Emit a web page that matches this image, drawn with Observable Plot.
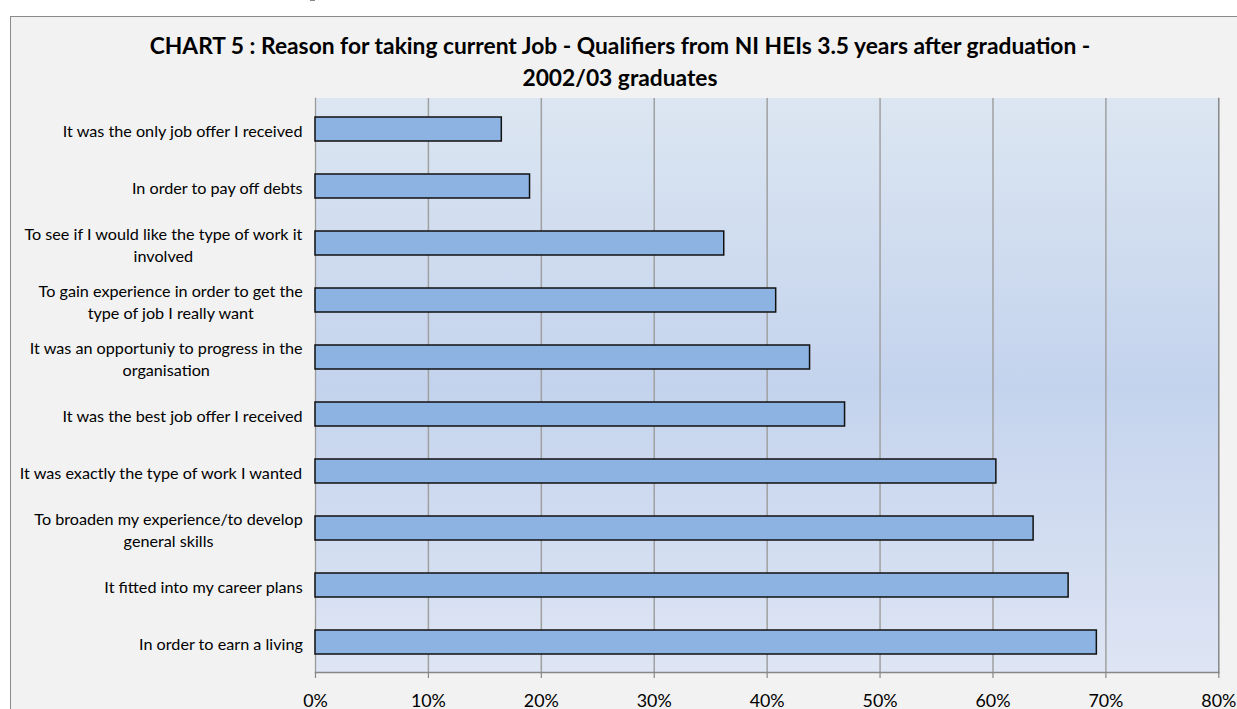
<!DOCTYPE html>
<html>
<head>
<meta charset="utf-8">
<script src="https://cdn.jsdelivr.net/npm/d3@7"></script>
<script src="https://cdn.jsdelivr.net/npm/@observablehq/plot@0.6"></script>
<style>
  html, body { margin: 0; padding: 0; overflow: hidden; background: #ffffff; }
  #page { position: relative; width: 1237px; height: 709px; overflow: hidden; background: #ffffff; }
  #frame { position: absolute; left: 10px; top: 16px; width: 1260px; height: 720px; border: 1px solid #8a8a8a; background: #f2f2f2; box-sizing: border-box; }
  #title { position: absolute; left: 0; width: 1240px; text-align: center; font-weight: bold; color: #000; white-space: pre; }
  #chart { position: absolute; left: 0; top: 0; }
</style>
</head>
<body>
<div id="page">
  <div id="frame"></div>
  <div id="title"></div>
  <div id="chart"></div>
</div>
<script>
// ---- data ----
const titleLines = [
  "CHART 5 : Reason for taking current Job - Qualifiers from NI HEIs 3.5 years after graduation -",
  "2002/03 graduates"
];
const labelLines = [
  ["It was the only job offer I received"],
  ["In order to pay off debts"],
  ["To see if I would like the type of work it", "involved"],
  ["To gain experience in order to get the", "type of job I really want"],
  ["It was an opportuniy to progress in the", "organisation"],
  ["It was the best job offer I received"],
  ["It was exactly the type of work I wanted"],
  ["To broaden my experience/to develop", "general skills"],
  ["It fitted into my career plans"],
  ["In order to earn a living"]
];
const categories = labelLines.map(l => l.join(" "));
const percentages = [16.5, 19.0, 36.2, 40.8, 43.8, 46.9, 60.3, 63.6, 66.7, 69.2];
const xTicks = [0, 10, 20, 30, 40, 50, 60, 70, 80];

const FAMILY = "Lato, 'Open Sans', 'DejaVu Sans', sans-serif";

async function draw() {
  try { await document.fonts.load("bold 20px Lato"); await document.fonts.load("20px Lato"); } catch (e) {}
  const ctx = document.createElement("canvas").getContext("2d");
  const measure = (text, size, weight) => { ctx.font = `${weight || "normal"} ${size}px ${FAMILY}`; return ctx.measureText(text).width; };
  const fit = (text, target, weight) => 100 * target / measure(text, 100, weight);

  // font sizes fitted to the reference text widths
  const titleSize = fit(titleLines[0], 944, "bold");
  const labelSize = fit(labelLines[0][0], 241);
  const tickSize = fit("70%", 35);

  // title
  const title = document.getElementById("title");
  const lh = 32.4;
  title.style.fontFamily = FAMILY;
  title.style.fontSize = titleSize + "px";
  title.style.lineHeight = lh + "px";
  title.style.top = (55 - ((lh - 1.2 * titleSize) / 2 + 0.987 * titleSize)) + "px";
  title.textContent = titleLines.join("\n");

  const rows = categories.map((c, i) => ({cat: c, value: percentages[i], label: labelLines[i].join("\n"),
    w: d3.max(labelLines[i], s => measure(s, labelSize))}));

  function background(index, scales, values, dims) {
    const g = d3.create("svg:g");
    const grad = g.append("defs").append("linearGradient").attr("id", "plotbg")
      .attr("x1", 0).attr("y1", 0).attr("x2", 0).attr("y2", 1);
    grad.append("stop").attr("offset", "0%").attr("stop-color", "#dce6f2");
    grad.append("stop").attr("offset", "50%").attr("stop-color", "#c4d3ed");
    grad.append("stop").attr("offset", "100%").attr("stop-color", "#dee5f4");
    g.append("rect")
      .attr("x", dims.marginLeft).attr("y", dims.marginTop)
      .attr("width", dims.width - dims.marginLeft - dims.marginRight)
      .attr("height", dims.height - dims.marginTop - dims.marginBottom)
      .attr("fill", "url(#plotbg)");
    return g.node();
  }

  function bandTicks(index, scales, values, dims) {
    const y = scales.y;
    const bw = y.bandwidth;
    const step = y(categories[1]) - y(categories[0]);
    const gap = (step - bw) / 2;
    const pos = categories.map(c => y(c) - gap);
    pos.push(y(categories[categories.length - 1]) + bw + gap);
    const g = d3.create("svg:g").attr("stroke", "#878787").attr("stroke-width", 1.2);
    for (const p of pos) {
      g.append("line").attr("x1", dims.marginLeft - 5).attr("x2", dims.marginLeft)
        .attr("y1", p).attr("y2", p);
    }
    return g.node();
  }

  const labelMarks = rows.map(r => Plot.text([r], {
    y: "cat", text: "label", frameAnchor: "left", textAnchor: "middle",
    dx: -(12.5 + r.w / 2), fontSize: labelSize, lineHeight: 22 / labelSize, fill: "#000"
  }));

  const chart = Plot.plot({
    width: 1237, height: 709,
    marginLeft: 315, marginRight: 18.7, marginTop: 98, marginBottom: 37,
    style: {background: "transparent", fontFamily: FAMILY, overflow: "visible", color: "#000"},
    x: {domain: [0, 80], axis: null, label: null},
    y: {domain: categories, paddingInner: 0.58, paddingOuter: 0.29, axis: null, label: null},
    marks: [
      background,
      Plot.gridX(xTicks.filter(d => d > 0 && d < 80), {stroke: "#a0a0a0", strokeOpacity: 1, strokeWidth: 1.5}),
      Plot.frame({anchor: "left", stroke: "#9a9a9a", strokeWidth: 1.3}),
      Plot.frame({anchor: "right", stroke: "#7f7f7f", strokeWidth: 1.4}),
      Plot.frame({anchor: "bottom", stroke: "#878787", strokeWidth: 1.3}),
      Plot.barX(rows, {x: "value", y: "cat", fill: "#8db3e2", stroke: "#111", strokeWidth: 1.5}),
      bandTicks,
      Plot.axisX(xTicks, {anchor: "bottom", label: null, tickSize: 6, tickPadding: 16, tickFormat: d => d + "%",
        fontSize: tickSize, stroke: "#878787", fill: "#000", strokeWidth: 1.2}),
      ...labelMarks
    ]
  });
  document.getElementById("chart").appendChild(chart);
}
draw();
</script>
</body>
</html>
